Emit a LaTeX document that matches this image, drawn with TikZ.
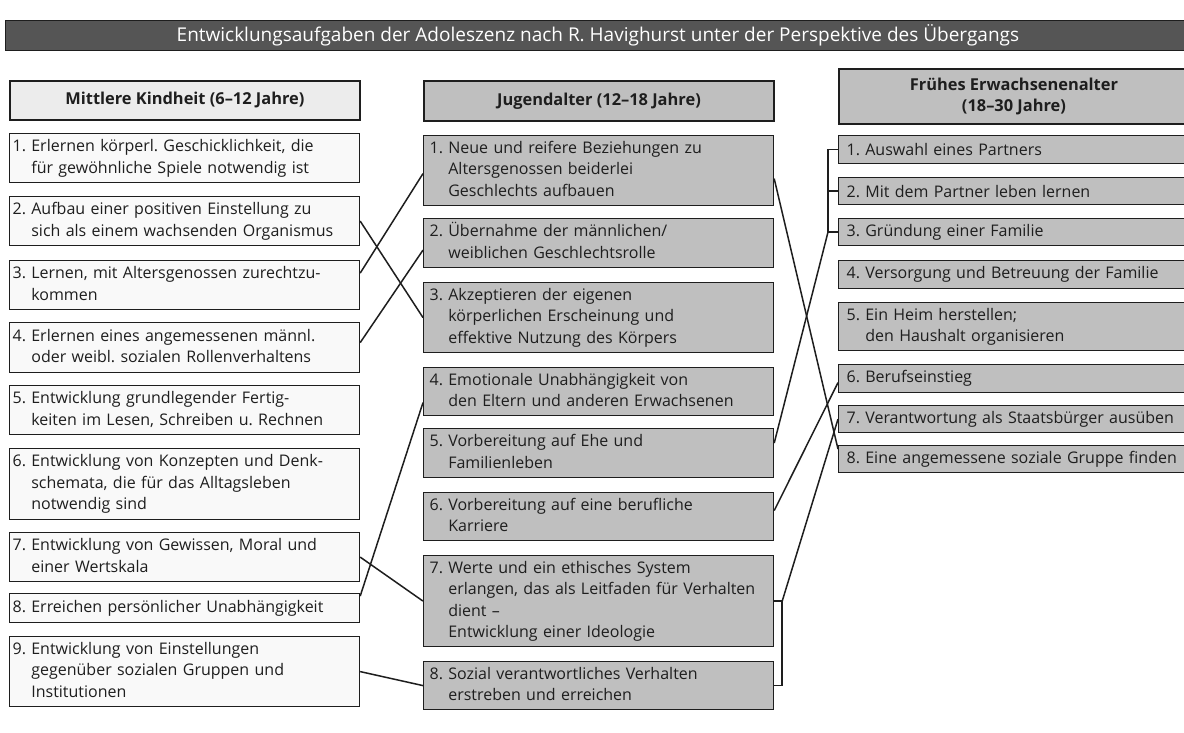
\documentclass[tikz,border=0pt]{standalone}
\usepackage{fontspec}
\setmainfont{Open Sans}
\usetikzlibrary{calc}
\definecolor{barfill}{HTML}{555555}
\definecolor{grayfill}{HTML}{BFBFBF}
\definecolor{lightfill}{HTML}{F9F9F9}
\definecolor{headlight}{HTML}{ECECEC}
\definecolor{inkc}{HTML}{1E1E1E}
\newcommand\itemfont{\fontsize{16}{21.5}\selectfont}
\newcommand\headfont{\fontsize{16.4}{21}\selectfont\bfseries}
\newcommand\nt[2]{#1\ \begin{tabular}[t]{@{}l@{}}#2\end{tabular}}
\frenchspacing
\begin{document}
\begin{tikzpicture}[x=1pt,y=-1pt,
  box/.style={draw=inkc, line width=1.2pt, rectangle, anchor=north west,
    inner ysep=0pt, align=left, font=\itemfont, text=inkc},
  lbox/.style={box, fill=lightfill, inner xsep=3pt, text width=344pt},
  mbox/.style={box, fill=grayfill, inner xsep=6pt, text width=338pt},
  rbox/.style={box, fill=grayfill, inner xsep=8pt, text width=334pt},
  headbox/.style={draw=inkc, line width=1.9pt, rectangle, anchor=north west,
    inner sep=0pt, align=center, font=\headfont, text=inkc, minimum width=350pt},
  link/.style={draw=inkc, line width=1.5pt}]
\useasboundingbox (0,0) rectangle (1184,733);
\fill[white] (0,0) rectangle (1184,733);

% title bar
\node[fill=barfill, draw=inkc, line width=0.8pt, anchor=north west, minimum width=1185pt,
  minimum height=30pt, inner sep=0pt, text=white, font=\fontsize{19}{22}\selectfont]
  (T) at (5,20) {Entwicklungsaufgaben der Adoleszenz nach R. Havighurst unter der Perspektive des Übergangs};

% column heads
\node[headbox, fill=headlight, minimum height=39pt] (LH) at (9,80) {Mittlere Kindheit (6–12 Jahre)};
\node[headbox, fill=grayfill, minimum height=40pt] (MH) at (423,80) {Jugendalter (12–18 Jahre)};
\node[headbox, fill=grayfill, minimum height=55pt] (RH) at (838,68) {Frühes Erwachsenenalter\\(18–30 Jahre)};

% middle childhood
\node[lbox, minimum height=49pt] (L1) at (9,133) {\nt{1.}{Erlernen körperl. Geschicklichkeit, die\\für gewöhnliche Spiele notwendig ist}};
\node[lbox, minimum height=49pt] (L2) at (9,196) {\nt{2.}{Aufbau einer positiven Einstellung zu\\sich als einem wachsenden Organismus}};
\node[lbox, minimum height=49pt] (L3) at (9,260) {\nt{3.}{Lernen, mit Altersgenossen zurechtzu-\\kommen}};
\node[lbox, minimum height=50pt] (L4) at (9,322) {\nt{4.}{Erlernen eines angemessenen männl.\\oder weibl. sozialen Rollenverhaltens}};
\node[lbox, minimum height=49pt] (L5) at (9,385) {\nt{5.}{Entwicklung grundlegender Fertig-\\keiten im Lesen, Schreiben u. Rechnen}};
\node[lbox, minimum height=71pt] (L6) at (9,448) {\nt{6.}{Entwicklung von Konzepten und Denk-\\schemata, die für das Alltagsleben\\notwendig sind}};
\node[lbox, minimum height=49pt] (L7) at (9,532) {\nt{7.}{Entwicklung von Gewissen, Moral und\\einer Wertskala}};
\node[lbox, minimum height=29pt] (L8) at (9,593) {\nt{8.}{Erreichen persönlicher Unabhängigkeit}};
\node[lbox, minimum height=70pt] (L9) at (9,636) {\nt{9.}{Entwicklung von Einstellungen\\gegenüber sozialen Gruppen und\\Institutionen}};

% adolescence
\node[mbox, minimum height=70pt] (M1) at (423,135) {\nt{1.}{Neue und reifere Beziehungen zu\\Altersgenossen beiderlei\\Geschlechts aufbauen}};
\node[mbox, minimum height=49pt] (M2) at (423,218) {\nt{2.}{Übernahme der männlichen/\\weiblichen Geschlechtsrolle}};
\node[mbox, minimum height=70pt] (M3) at (423,282) {\nt{3.}{Akzeptieren der eigenen\\körperlichen Erscheinung und\\effektive Nutzung des Körpers}};
\node[mbox, minimum height=48pt] (M4) at (423,367) {\nt{4.}{Emotionale Unabhängigkeit von\\den Eltern und anderen Erwachsenen}};
\node[mbox, minimum height=49pt] (M5) at (423,428) {\nt{5.}{Vorbereitung auf Ehe und\\Familienleben}};
\node[mbox, minimum height=48pt] (M6) at (423,492) {\nt{6.}{Vorbereitung auf eine berufliche\\Karriere}};
\node[mbox, minimum height=91pt] (M7) at (423,555) {\nt{7.}{Werte und ein ethisches System\\erlangen, das als Leitfaden für Verhalten\\dient –\\Entwicklung einer Ideologie}};
\node[mbox, minimum height=48pt] (M8) at (423,661) {\nt{8.}{Sozial verantwortliches Verhalten\\erstreben und erreichen}};

% early adulthood
\node[rbox, minimum height=28pt] (R1) at (838,135) {1. Auswahl eines Partners};
\node[rbox, minimum height=27pt] (R2) at (838,177) {2. Mit dem Partner leben lernen};
\node[rbox, minimum height=27pt] (R3) at (838,218) {3. Gründung einer Familie};
\node[rbox, minimum height=28pt] (R4) at (838,260) {4. Versorgung und Betreuung der Familie};
\node[rbox, minimum height=48pt] (R5) at (838,302) {\nt{5.}{Ein Heim herstellen;\\den Haushalt organisieren}};
\node[rbox, minimum height=28pt] (R6) at (838,364) {6. Berufseinstieg};
\node[rbox, minimum height=27pt] (R7) at (838,405) {7. Verantwortung als Staatsbürger ausüben};
\node[rbox, minimum height=27pt] (R8) at (838,445) {8. Eine angemessene soziale Gruppe finden};

% links between childhood and adolescence
\draw[link] ([yshift=12pt]L3.east) -- ([yshift=-3pt]M1.west);
\draw[link] (L2.east) -- (M3.west);
\draw[link] ([yshift=5pt]L4.east) -- ([yshift=-7pt]M2.west);
\draw[link] ([yshift=12pt]L8.east) -- ([yshift=-11pt]M4.west);
\draw[link] (L7.east) -- (M7.west);
\draw[link] (L9.east) -- (M8.west);

% bracket joining adult tasks 1-3
\coordinate (B1) at ([xshift=-10pt]R1.west);
\coordinate (B3) at ([xshift=-10pt]R3.west);
\draw[link] (R1.west) -- (B1) -- (B3) -- (R3.west);
\draw[link] (R2.west) -- ([xshift=-10pt]R2.west);
% bracket joining adolescent tasks 7 and 8
\coordinate (C7) at ([xshift=8pt]M7.east);
\coordinate (C8) at ([xshift=8pt]M8.east);
\draw[link] (M7.east) -- (C7) -- (C8) -- (M8.east);

% links between adolescence and early adulthood
\draw[link] ([yshift=-8pt]M1.east) -- ([yshift=10pt]R8.west);
\draw[link] ([yshift=10pt]M5.east) -- (B3);
\draw[link] ([yshift=6pt]M6.east) -- ([yshift=-4pt]R6.west);
\draw[link] (C7) -- (R7.west);
\end{tikzpicture}
\end{document}
